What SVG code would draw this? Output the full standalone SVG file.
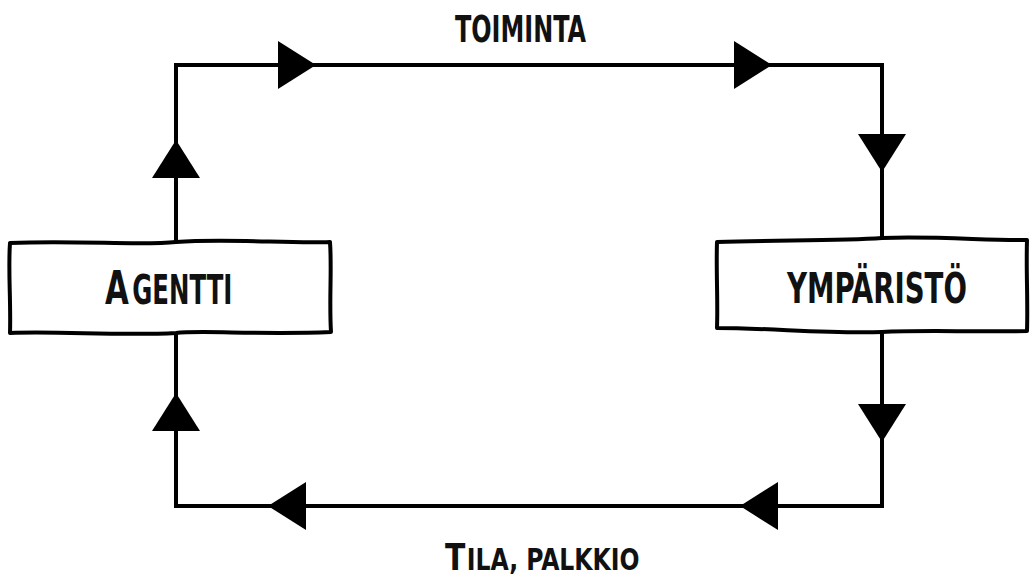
<svg xmlns="http://www.w3.org/2000/svg" xmlns:xlink="http://www.w3.org/1999/xlink" width="1030" height="580" viewBox="0 0 1030 580">
<defs>
<style>
.box{fill:#fff;stroke:#000;stroke-width:4;stroke-linejoin:round}
.line{fill:none;stroke:#000;stroke-width:4;stroke-linejoin:miter;stroke-linecap:square}
.lbl{font-family:"DejaVu Sans Condensed","Liberation Sans Narrow","Liberation Sans",sans-serif;font-weight:bold;fill:#111}
.up{text-transform:uppercase}
</style>
<path id="tri" d="M0,0 L-38,-24 L-38,24 Z" fill="#000"/>
</defs>
<rect width="1030" height="580" fill="#fff"/>
<g id="connectors">
<path class="line" d="M176,242 L176,65 L882,65 L882,238"/>
<path class="line" d="M882,330 L882,506 L176,506 L176,333"/>
<use xlink:href="#tri" transform="translate(316,65)"/>
<use xlink:href="#tri" transform="translate(772,65)"/>
<use xlink:href="#tri" transform="translate(882,172) rotate(90)"/>
<use xlink:href="#tri" transform="translate(882,442) rotate(90)"/>
<use xlink:href="#tri" transform="translate(740,506) rotate(180)"/>
<use xlink:href="#tri" transform="translate(268,506) rotate(180)"/>
<use xlink:href="#tri" transform="translate(176,140) rotate(-90)"/>
<use xlink:href="#tri" transform="translate(176,393) rotate(-90)"/>
</g>
<g id="agentti">
<path class="box" d="M10,243 C80,240 140,246 176,242 C230,238 290,244 330,242 C332,270 329,300 331,332 C260,335 200,330 176,333 C120,336 60,331 10,333 C11,300 8,270 10,243 Z"/>
<text class="lbl" transform="translate(105,304) scale(0.7,1)" y="0"><tspan x="0" font-size="47" textLength="34" lengthAdjust="spacingAndGlyphs">A</tspan><tspan class="up" x="39" font-size="40" textLength="143" lengthAdjust="spacingAndGlyphs">gentti</tspan></text>
</g>
<g id="ymparisto">
<path class="box" d="M717,242 C780,240 840,241 882,238 C940,236 990,241 1027,240 C1026,270 1028,300 1027,331 C970,332 920,330 882,332 C830,334 770,328 717,328 C718,300 716,270 717,242 Z"/>
<text class="lbl" transform="translate(787,303) scale(0.7,1)" x="0" y="0" font-size="42" textLength="257" lengthAdjust="spacingAndGlyphs">YMPÄRISTÖ</text>
</g>
<g id="labels">
<text class="lbl" transform="translate(455,42) scale(0.7,1)" x="0" y="0" font-size="38" textLength="187" lengthAdjust="spacingAndGlyphs">TOIMINTA</text>
<text class="lbl" transform="translate(445,570) scale(0.7,1)" y="0"><tspan x="0" font-size="38" textLength="29" lengthAdjust="spacingAndGlyphs">T</tspan><tspan class="up" x="31" font-size="31" textLength="247" lengthAdjust="spacingAndGlyphs">ila, palkkio</tspan></text>
</g>
</svg>
